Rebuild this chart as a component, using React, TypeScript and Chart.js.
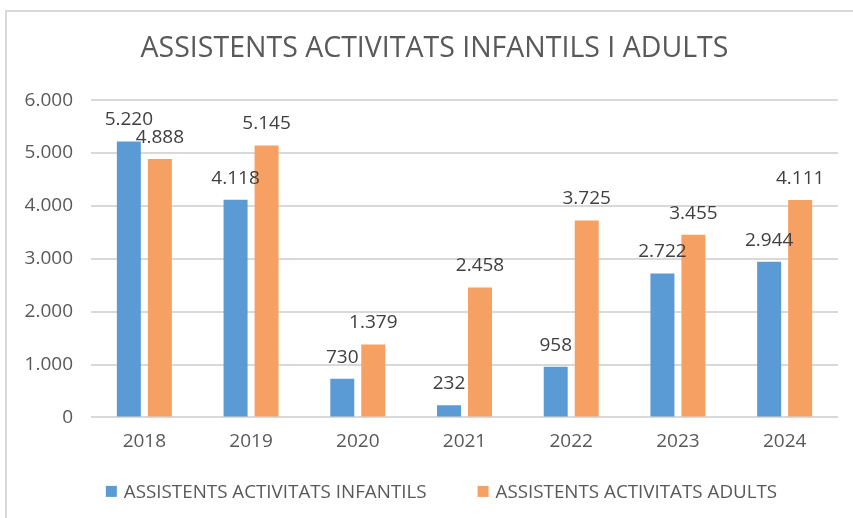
import React, { useEffect, useRef } from "react";
import { Chart, registerables } from "chart.js";

Chart.register(...registerables);

const years = ["2018", "2019", "2020", "2021", "2022", "2023", "2024"];
const infantils = [5220, 4118, 730, 232, 958, 2722, 2944];
const adults = [4888, 5145, 1379, 2458, 3725, 3455, 4111];
const seriesNames = ["ASSISTENTS ACTIVITATS INFANTILS", "ASSISTENTS ACTIVITATS ADULTS"];
const seriesColors = ["#5B9BD5", "#F7A063"];
const chartTitle = "ASSISTENTS ACTIVITATS INFANTILS I ADULTS";

const FONT = "'Open Sans', 'Liberation Sans', sans-serif";

const fmt = (n: number) => String(n).replace(/\B(?=(\d{3})+(?!\d))/g, ".");

const valueLabels = {
  id: "valueLabels",
  afterDatasetsDraw(chart: any) {
    const ctx = chart.ctx;
    ctx.save();
    ctx.font = `19px ${FONT}`;
    ctx.fillStyle = "#404040";
    ctx.textAlign = "center";
    ctx.textBaseline = "alphabetic";
    chart.data.datasets.forEach((ds: any, i: number) => {
      const meta = chart.getDatasetMeta(i);
      meta.data.forEach((bar: any, j: number) => {
        ctx.fillText(fmt(ds.data[j]), bar.x, bar.y - 16);
      });
    });
    ctx.restore();
  },
};

// Bottom legend drawn from the datasets (box, 7px gap, text, 51px between items)
const bottomLegend = {
  id: "bottomLegend",
  afterDraw(chart: any) {
    const ctx = chart.ctx;
    ctx.save();
    ctx.font = `18.8px ${FONT}`;
    ctx.textBaseline = "middle";
    ctx.textAlign = "left";
    const box = 11;
    const gapText = 7;
    const gapItem = 51;
    const items = chart.data.datasets.map((ds: any) => ({
      text: ds.label,
      color: ds.backgroundColor,
      w: box + gapText + ctx.measureText(ds.label).width,
    }));
    const total = items.reduce((s: number, it: any) => s + it.w, 0) + gapItem * (items.length - 1);
    let x = chart.width / 2 + 7 - total / 2;
    const y = chart.chartArea.bottom + 74;
    items.forEach((it: any) => {
      ctx.fillStyle = it.color;
      ctx.fillRect(x, y - box / 2, box, box);
      ctx.fillStyle = "#595959";
      ctx.fillText(it.text, x + box + gapText, y + 1);
      x += it.w + gapItem;
    });
    ctx.restore();
  },
};

export default function App() {
  const ref = useRef<HTMLCanvasElement | null>(null);
  useEffect(() => {
    document.body.style.margin = "0";
    document.body.style.overflow = "hidden";
    document.documentElement.style.overflow = "hidden";
    const chart = new Chart(ref.current as HTMLCanvasElement, {
      type: "bar",
      data: {
        labels: years,
        datasets: [
          {
            label: seriesNames[0],
            data: infantils,
            backgroundColor: seriesColors[0],
            barPercentage: 0.774,
            categoryPercentage: 0.581,
          },
          {
            label: seriesNames[1],
            data: adults,
            backgroundColor: seriesColors[1],
            barPercentage: 0.774,
            categoryPercentage: 0.581,
          },
        ],
      },
      options: {
        animation: false,
        responsive: false,
        maintainAspectRatio: false,
        layout: { padding: { left: 0, right: 0, top: 0, bottom: 52.6 } },
        plugins: {
          tooltip: { enabled: false },
          title: {
            display: true,
            text: chartTitle,
            color: "#595959",
            font: { family: FONT, size: 28.5, weight: "normal" },
            padding: { top: 21, bottom: 34 },
          },
          legend: { display: false },
        },
        scales: {
          x: {
            grid: { display: false, drawTicks: false },
            border: { display: false },
            ticks: { color: "#595959", font: { family: FONT, size: 19 }, padding: 12.6 },
          },
          y: {
            min: 0,
            max: 6000,
            afterFit: (scale: any) => {
              scale.width = 85;
            },
            grid: { color: "#D9D9D9", lineWidth: 2, drawTicks: false },
            border: { display: false },
            ticks: {
              stepSize: 1000,
              color: "#595959",
              font: { family: FONT, size: 19 },
              padding: 18,
              callback: (v: any) => fmt(Number(v)),
            },
          },
          yRight: {
            position: "right",
            display: true,
            min: 0,
            max: 6000,
            afterFit: (scale: any) => {
              scale.width = 25;
            },
            grid: { display: false, drawTicks: false },
            border: { display: false },
            ticks: { display: false },
          },
        },
      },
      plugins: [valueLabels, bottomLegend],
    } as any);
    return () => chart.destroy();
  }, []);
  return (
    <div style={{ position: "relative", width: 853, height: 518, overflow: "hidden", background: "#fff" }}>
      <div
        style={{
          position: "absolute",
          left: 5,
          top: 10,
          width: 870,
          height: 530,
          border: "2px solid #D9D9D9",
          boxSizing: "border-box",
        }}
      />
      <canvas
        ref={ref}
        width={857}
        height={507}
        style={{ position: "absolute", left: 6, top: 11, width: 857, height: 507 }}
      />
    </div>
  );
}
